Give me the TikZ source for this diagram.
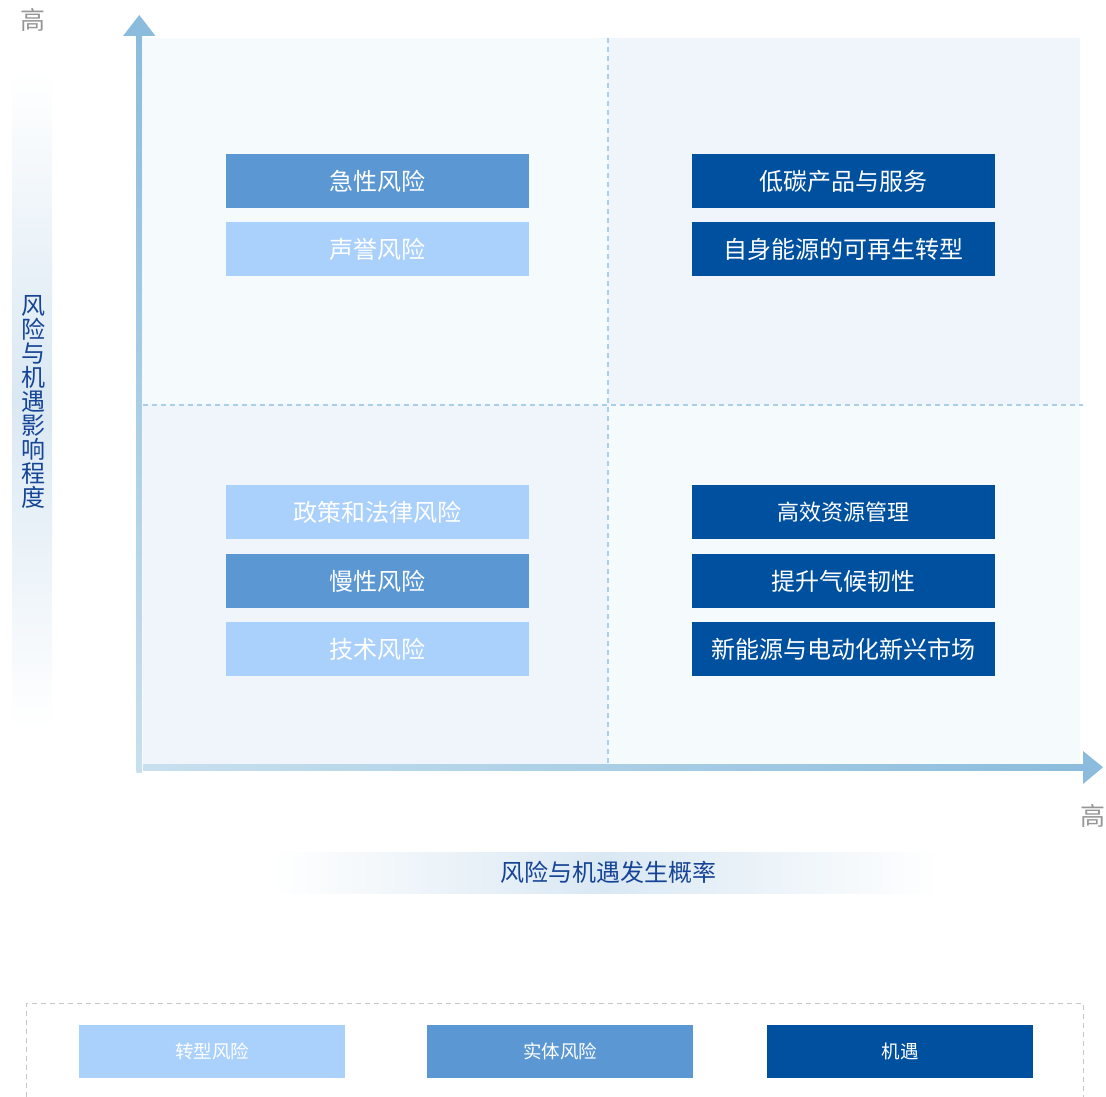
\documentclass[tikz,border=0pt]{standalone}
\usepackage{fontspec}
\setmainfont{Noto Sans CJK SC}
\usetikzlibrary{positioning}

\definecolor{axisblue}{RGB}{139,188,221}
\definecolor{axislight}{RGB}{200,224,238}
\definecolor{quadA}{RGB}{245,250,253}
\definecolor{quadB}{RGB}{239,245,250}
\definecolor{gridline}{RGB}{168,208,234}
\definecolor{bandblue}{RGB}{218,232,243}
\definecolor{titleblue}{RGB}{22,68,150}
\definecolor{lowgray}{RGB}{150,150,150}
\definecolor{transrisk}{RGB}{170,208,252}
\definecolor{physrisk}{RGB}{91,151,211}
\definecolor{chance}{RGB}{0,80,160}

\begin{document}
\begin{tikzpicture}[x=1pt, y=-1pt]
		\tikzstyle{transbox}=[rectangle, fill=transrisk, text=white, minimum width=303pt, minimum height=54pt, inner sep=0pt, font=\fontsize{24}{28}\selectfont]
		\tikzstyle{physbox}=[transbox, fill=physrisk]
		\tikzstyle{chancebox}=[transbox, fill=chance]
		\tikzstyle{legendbox}=[rectangle, text=white, minimum width=266pt, minimum height=53pt, inner sep=0pt, font=\fontsize{18.5}{22}\selectfont]
		\tikzstyle{gridline}=[draw=gridline, line width=1.3pt, dash pattern=on 5pt off 4pt]
		\tikzstyle{highlabel}=[text=lowgray, font=\fontsize{25}{28}\selectfont, inner sep=0pt]
		\tikzstyle{axislabel}=[text=titleblue, font=\fontsize{24}{24}\selectfont, inner sep=0pt]
		
		\useasboundingbox (0,0) rectangle (1106,1097);
		
		% Quadranten
		\fill[quadA] (143,38) rectangle (608,405);
		\fill[quadB] (608,38) rectangle (1080,405);
		\fill[quadB] (143,405) rectangle (608,765);
		\fill[quadA] (608,405) rectangle (1080,765);
		\draw[gridline] (608,38) -- (608,765);
		\draw[gridline] (143,405) -- (1083,405);
		
		% Achsen
		\shade[top color=axisblue, bottom color=axislight] (136.5,34) rectangle (142,772);
		\fill[axisblue] (123,36) -- (139.25,15) -- (155.5,36) -- cycle;
		\shade[left color=axislight, right color=axisblue] (143,764.5) rectangle (1084,770);
		\fill[axisblue] (1083,751) -- (1103,767.25) -- (1083,784) -- cycle;
		\node[highlabel] (hightop) at (33,20) {高};
		\node[highlabel] (highright) at (1093,816) {高};
		
		% Achsenbeschriftungen
		\shade[top color=white, bottom color=white, middle color=bandblue] (12,70) rectangle (52,730);
		\node[axislabel, align=center] (ylabel) at (33,402) {风\\险\\与\\机\\遇\\影\\响\\程\\度};
		\shade[left color=white, right color=white, middle color=bandblue] (270,852) rectangle (940,893);
		\node[axislabel] (xlabel) at (608,872) {风险与机遇发生概率};
		
		% Oben links
		\node[physbox] (acute) at (377.5,181) {急性风险};
		\node[transbox] (reputation) at (377.5,249) {声誉风险};
		
		% Oben rechts
		\node[chancebox] (lowcarbon) at (843.5,181) {低碳产品与服务};
		\node[chancebox] (renewable) at (843.5,249) {自身能源的可再生转型};
		
		% Unten links
		\node[transbox] (policy) at (377.5,512) {政策和法律风险};
		\node[physbox] (chronic) at (377.5,581) {慢性风险};
		\node[transbox] (technology) at (377.5,649) {技术风险};
		
		% Unten rechts
		\node[chancebox, font=\fontsize{22}{26}\selectfont] (efficiency) at (843.5,512) {高效资源管理};
		\node[chancebox] (resilience) at (843.5,581) {提升气候韧性};
		\node[chancebox] (newenergy) at (843.5,649) {新能源与电动化新兴市场};
		
		% Legende
		\draw[draw=black!22, line width=1pt, dash pattern=on 5pt off 4pt] (26,1097) -- (26,1003.5) -- (1083,1003.5) -- (1083,1097);
		\node[legendbox, fill=transrisk] (legtrans) at (212,1051.5) {转型风险};
		\node[legendbox, fill=physrisk] (legphys) at (560,1051.5) {实体风险};
		\node[legendbox, fill=chance] (legchance) at (900,1051.5) {机遇};
		
	\end{tikzpicture}
\end{document}
